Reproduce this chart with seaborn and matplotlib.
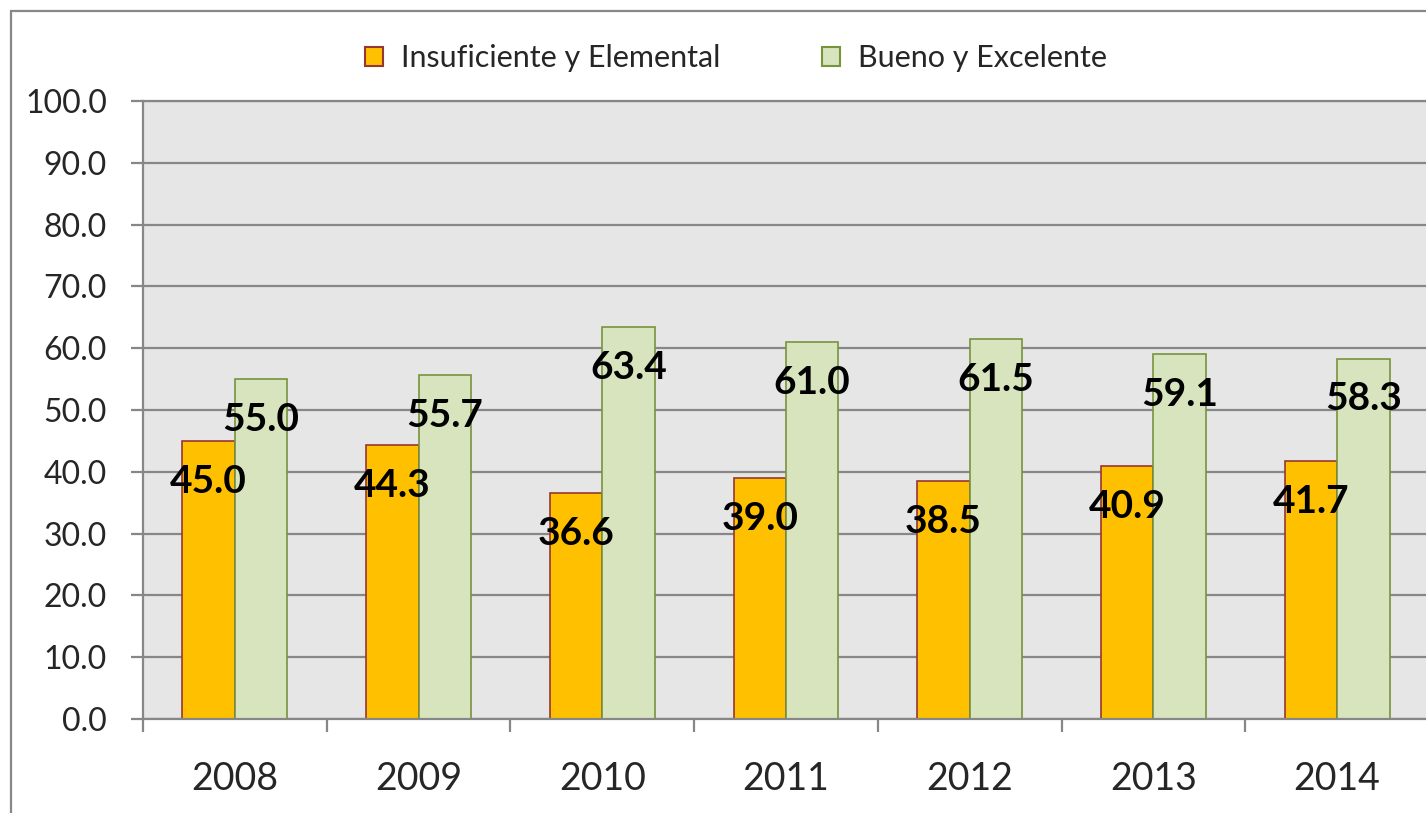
import numpy as np
import pandas as pd
import seaborn as sns
import matplotlib.pyplot as plt
from matplotlib.patches import Rectangle

# data
years = ['2008', '2009', '2010', '2011', '2012', '2013', '2014']
insuficiente = [45.0, 44.3, 36.6, 39.0, 38.5, 40.9, 41.7]
bueno = [55.0, 55.7, 63.4, 61.0, 61.5, 59.1, 58.3]
series_names = ['Insuficiente y Elemental', 'Bueno y Excelente']

df = pd.DataFrame({
    'year': years * 2,
    'value': insuficiente + bueno,
    'serie': [series_names[0]] * len(years) + [series_names[1]] * len(years),
})

sns.set_style("white")
plt.rcParams['font.family'] = ['Lato', 'DejaVu Sans']

fill_colors = ['#FFC000', '#D7E4BD']
edge_colors = ['#953735', '#77933C']
grid_color = '#878787'

fig = plt.figure(figsize=(14.26, 8.13), dpi=100)
ax = fig.add_axes([143 / 1426, 94 / 813, 1286 / 1426, 618 / 813])

ax = sns.barplot(data=df, x='year', y='value', hue='serie',
                 palette=fill_colors, width=0.57, gap=0,
                 saturation=1, legend=False, ax=ax)

# bar edges + data labels
for container, ec in zip(ax.containers, edge_colors):
    for patch in container:
        patch.set_edgecolor(ec)
        patch.set_linewidth(1.2)
        ax.annotate(f'{patch.get_height():.1f}',
                    (patch.get_x() + patch.get_width() / 2, patch.get_height()),
                    xytext=(0, -29), textcoords='offset points',
                    ha='center', va='center', fontsize=28, fontweight='bold',
                    color='black', zorder=5)

ax.set_facecolor('#E6E6E6')
ax.set_ylim(0, 100)
ax.set_xlim(-0.5, len(years) - 0.5)
ax.set_yticks(np.arange(0, 101, 10))
ax.set_yticklabels([f'{v:.1f}' for v in np.arange(0, 101, 10)], fontsize=23)
ax.yaxis.grid(True, color=grid_color, linewidth=1.6)
ax.set_axisbelow(True)
ax.set_xlabel('')
ax.set_ylabel('')

# category boundary ticks
ax.set_xticks(np.arange(-0.5, len(years), 1), minor=True)
ax.tick_params(axis='x', which='major', bottom=True, length=0, pad=30, labelsize=27)
ax.tick_params(axis='x', which='minor', bottom=True, length=9, width=1.6,
               color=grid_color, direction='out')
ax.tick_params(axis='y', left=True, length=9, width=1.6, color=grid_color,
               direction='out', pad=17)

for side, sp in ax.spines.items():
    sp.set_color(grid_color)
    sp.set_linewidth(1.6)
    sp.set_visible(True)

# legend
handles = [Rectangle((0, 0), 1, 1, facecolor=f, edgecolor=e, linewidth=1.5)
           for f, e in zip(fill_colors, edge_colors)]
fig.legend(handles, series_names, loc='center', bbox_to_anchor=(736 / 1426, 1 - 58 / 813),
           ncol=2, frameon=False, fontsize=22, handlelength=0.6, handleheight=0.6,
           handletextpad=0.6, columnspacing=3.3)

# outer chart frame (cropped on right and bottom)
fig.patches.append(Rectangle((11 / 1426, -0.05), 1.1, 1 - 11 / 813 + 0.05,
                             transform=fig.transFigure, fill=False,
                             edgecolor=grid_color, linewidth=1.6))

fig.savefig('out.png', dpi=100)
